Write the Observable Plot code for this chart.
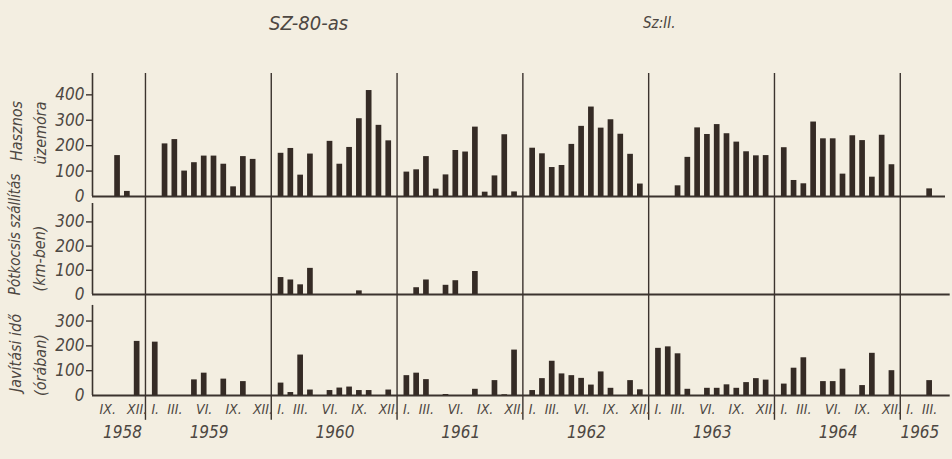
<!DOCTYPE html>
<html><head><meta charset="utf-8">
<script src="https://cdn.jsdelivr.net/npm/d3@7"></script>
<script src="https://cdn.jsdelivr.net/npm/@observablehq/plot@0.6"></script>
<style>
body{margin:0;background:#f3eee1;}
#chart{position:relative;width:952px;height:459px;background:#f3eee1;overflow:hidden;font-family:"Liberation Sans Narrow","DejaVu Sans Condensed",sans-serif;font-style:italic;color:#4d4742;}
#chart svg{position:absolute;left:0;overflow:visible;}
.ttl{position:absolute;white-space:nowrap;line-height:1;}
</style></head><body>
<div id="chart">
<div class="ttl" style="left:269px;top:13px;font-size:20px;">SZ-80-as</div>
<div class="ttl" style="left:643px;top:16px;font-size:15px;">Sz:II.</div>
</div>
<script>
// ---- data ----
const years = [1958, 1959, 1960, 1961, 1962, 1963, 1964, 1965];
const firstMonth = [9, 1, 1, 1, 1, 1, 1, 1];
const lastMonth = [12, 12, 12, 12, 12, 12, 12, 3];
const monthNames = ["I.", "II.", "III.", "IV.", "V.", "VI.", "VII.", "VIII.", "IX.", "X.", "XI.", "XII."];
const labeledMonths = [1, 3, 6, 9, 12];
const hasznosTicks = [0, 100, 200, 300, 400];
const otherTicks = [0, 100, 200, 300];

// [year, month, value]
const hasznos = [
  [1958,10,161],[1958,11,20],
  [1959,2,207],[1959,3,224],[1959,4,100],[1959,5,133],[1959,6,159],[1959,7,159],[1959,8,127],[1959,9,38],[1959,10,157],[1959,11,146],
  [1960,1,170],[1960,2,189],[1960,3,84],[1960,4,167],[1960,6,217],[1960,7,127],[1960,8,193],[1960,9,306],[1960,10,417],[1960,11,280],[1960,12,219],
  [1961,1,96],[1961,2,105],[1961,3,157],[1961,4,29],[1961,5,85],[1961,6,181],[1961,7,175],[1961,8,273],[1961,9,17],[1961,10,81],[1961,11,243],[1961,12,18],
  [1962,1,190],[1962,2,168],[1962,3,114],[1962,4,122],[1962,5,205],[1962,6,276],[1962,7,352],[1962,8,269],[1962,9,302],[1962,10,245],[1962,11,166],[1962,12,49],
  [1963,3,42],[1963,4,154],[1963,5,270],[1963,6,244],[1963,7,283],[1963,8,247],[1963,9,214],[1963,10,176],[1963,11,160],[1963,12,161],
  [1964,1,192],[1964,2,63],[1964,3,50],[1964,4,293],[1964,5,227],[1964,6,227],[1964,7,88],[1964,8,239],[1964,9,220],[1964,10,76],[1964,11,241],[1964,12,125],
  [1965,3,30]
];
const potkocsis = [
  [1960,1,70],[1960,2,60],[1960,3,40],[1960,4,108],[1960,9,15],
  [1961,2,28],[1961,3,60],[1961,5,38],[1961,6,57],[1961,8,95]
];
const javitasi = [
  [1958,12,218],
  [1959,1,215],[1959,5,63],[1959,6,90],[1959,8,66],[1959,10,56],
  [1960,1,50],[1960,2,12],[1960,3,163],[1960,4,22],[1960,6,20],[1960,7,30],[1960,8,34],[1960,9,20],[1960,10,20],[1960,12,22],
  [1961,1,80],[1961,2,90],[1961,3,64],[1961,5,4],[1961,8,25],[1961,10,60],[1961,11,3],[1961,12,183],
  [1962,1,20],[1962,2,68],[1962,3,138],[1962,4,87],[1962,5,80],[1962,6,69],[1962,7,42],[1962,8,95],[1962,9,29],[1962,11,60],[1962,12,23],
  [1963,1,190],[1963,2,196],[1963,3,168],[1963,4,25],[1963,6,29],[1963,7,29],[1963,8,43],[1963,9,29],[1963,10,52],[1963,11,68],[1963,12,62],
  [1964,1,46],[1964,2,110],[1964,3,152],[1964,5,56],[1964,6,56],[1964,7,106],[1964,9,40],[1964,10,170],[1964,12,100],
  [1965,3,60]
];

// ---- layout / style ----
const YEAR_SPAN = 12.85;          // a year slot incl. the gap at the boundary, in month units
const X_DOMAIN = [-6.41, 80.72];
const BAR_HALF = 0.29;
const BAR = "#352b25", LINE = "#3b332e", TEXT = "#4d4742";
const FONT = '"Liberation Sans Narrow","DejaVu Sans Condensed",sans-serif';
const pos = (y, m) => (y - 1959) * YEAR_SPAN + (m - 1);
const separators = years.slice(1).map(y => pos(y, 1) - 1);
const toBars = arr => arr.map(([y, m, v]) => ({p: pos(y, m), v}));

const monthLabels = [];
years.forEach((y, i) => labeledMonths.forEach(m => {
  if (m >= firstMonth[i] && m <= lastMonth[i]) monthLabels.push({p: pos(y, m), t: monthNames[m - 1]});
}));
if (!monthLabels.find(d => d.p === pos(1965, 3))) monthLabels.push({p: pos(1965, 3), t: "III."});
const yearLabels = years.map((y, i) => ({p: pos(y, (firstMonth[i] + lastMonth[i]) / 2), t: String(y)}));

function panel({data, top, height, marginTop, marginBottom, yMax, ticks, axisTop, sepBottom, titles, extra = [], xEnd}) {
  const svg = Plot.plot({
    width: 952, height, marginLeft: 92, marginRight: 7, marginTop, marginBottom,
    x: {domain: X_DOMAIN, axis: null},
    y: {domain: [0, yMax], axis: null},
    style: {background: "transparent", overflow: "visible", fontFamily: FONT, fontStyle: "italic", color: TEXT},
    marks: [
      Plot.ruleX(separators, {x: d => d, y1: sepBottom, y2: yMax, stroke: LINE, strokeWidth: 1.4}),
      Plot.ruleX([X_DOMAIN[0]], {y1: 0, y2: axisTop, stroke: LINE, strokeWidth: 1.6}),
      Plot.ruleY([0], {x1: X_DOMAIN[0], x2: xEnd, stroke: LINE, strokeWidth: 1.8}),
      Plot.rectY(toBars(data), {x1: d => d.p - BAR_HALF, x2: d => d.p + BAR_HALF, y: "v", fill: BAR}),
      Plot.axisY(ticks.filter(t => t > 0), {tickSize: 6, tickPadding: 2, fontSize: 17, label: null, stroke: LINE, strokeWidth: 1.4}),
      Plot.axisY([0], {tickSize: 0, tickPadding: 8, fontSize: 17, label: null}),
      ...titles.map(t => Plot.text([t.text], {frameAnchor: "left", textAnchor: "middle", lineAnchor: "middle", dx: t.dx, dy: t.dy, rotate: -90, fontSize: t.size ?? 16, fill: TEXT})),
      ...extra
    ]
  });
  svg.style.top = top + "px";
  document.getElementById("chart").appendChild(svg);
}

panel({
  data: hasznos, top: 0, height: 196, marginTop: 73, marginBottom: 0, yMax: 484,
  ticks: hasznosTicks, axisTop: 484, sepBottom: 0, xEnd: X_DOMAIN[1],
  titles: [{text: "Hasznos", dx: -76, dy: -4}, {text: "üzemóra", dx: -52, dy: -2}]
});
panel({
  data: potkocsis, top: 196, height: 98, marginTop: 0, marginBottom: 0, yMax: 405,
  ticks: otherTicks, axisTop: 376, sepBottom: 0, xEnd: 81.2,
  titles: [{text: "Pótkocsis szállítás", dx: -77, dy: -11, size: 15}, {text: "(km-ben)", dx: -53, dy: 13}]
});
panel({
  data: javitasi, top: 294, height: 165, marginTop: 0, marginBottom: 64, yMax: 407,
  ticks: otherTicks, axisTop: 363, sepBottom: -100, xEnd: 81.2,
  titles: [{text: "Javítási idő", dx: -77, dy: 8}, {text: "(órában)", dx: -52, dy: 20}],
  extra: [
    Plot.text(monthLabels, {x: "p", text: "t", frameAnchor: "bottom", dy: 18, fontSize: 14, fill: TEXT}),
    Plot.text(yearLabels, {x: "p", text: "t", frameAnchor: "bottom", dy: 42, fontSize: 17, fill: TEXT})
  ]
});
</script>
</body></html>
